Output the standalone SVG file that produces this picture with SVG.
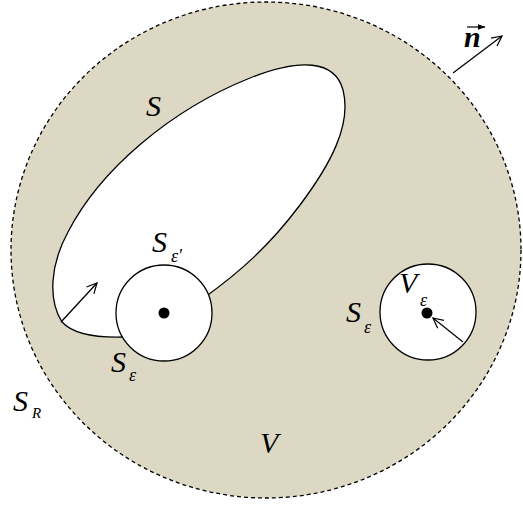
<svg xmlns="http://www.w3.org/2000/svg" width="523" height="505" viewBox="0 0 523 505">
<defs>
<marker id="ah" viewBox="0 0 12 12" refX="11" refY="6" markerWidth="12" markerHeight="12" markerUnits="userSpaceOnUse" orient="auto">
<path d="M1,1 L11,6 L1,11" fill="none" stroke="#000" stroke-width="1.2"/>
</marker>
<marker id="ah2" viewBox="0 0 8 8" refX="7.5" refY="4" markerWidth="8" markerHeight="8" markerUnits="userSpaceOnUse" orient="auto">
<path d="M0,1 L8,4 L0,7 Z" fill="#000"/>
</marker>
</defs>
<style>
.t{font-family:"Liberation Serif","Times New Roman",serif;font-style:italic;fill:#000}
.big{font-size:30px}
.sub{font-size:18px}
.w{fill:#fff;stroke:#000;stroke-width:1.3}
.arr{stroke:#000;stroke-width:1.3;fill:none;marker-end:url(#ah)}
</style>
<rect width="523" height="505" fill="#fff"/>
<g id="region-V">
<ellipse cx="266" cy="250" rx="255" ry="248" fill="#DCD8C3" stroke="#000" stroke-width="1.3" stroke-dasharray="4,3"/>
</g>
<g id="surface-S">
<path class="w" d="M62,322 C48,300 50,265 68,232 C100,170 170,110 250,78 C300,58 335,60 343,90 C352,125 330,165 300,205 C270,245 240,272 205,297 L125,337 C95,338 72,333 62,322 Z"/>
</g>
<g id="sphere-left">
<circle class="w" cx="164" cy="313" r="48"/>
<circle cx="164" cy="313" r="5.5" fill="#000"/>
</g>
<g id="sphere-right">
<circle class="w" cx="428" cy="312" r="48"/>
<circle cx="427" cy="313" r="5.5" fill="#000"/>
</g>
<g id="connectors">
<line class="arr" x1="61" y1="322" x2="97" y2="283"/>
<line class="arr" x1="463" y1="342" x2="433" y2="318"/>
<line class="arr" x1="453" y1="73" x2="502" y2="36"/>
<line x1="467" y1="27" x2="485" y2="27" stroke="#000" stroke-width="1.2" marker-end="url(#ah2)"/>
</g>
<g id="labels">
<text class="t big" x="146" y="116">S</text>
<text class="t big" x="152" y="252">S</text>
<text class="t sub" x="171" y="262">ε'</text>
<text class="t big" x="111" y="372">S</text>
<text class="t sub" x="129" y="381">ε</text>
<text class="t big" x="13" y="411">S</text>
<text class="t sub" x="32" y="418" style="font-size:15px">R</text>
<text class="t big" x="260" y="453">V</text>
<text class="t big" x="399" y="293">V</text>
<text class="t sub" x="420" y="306">ε</text>
<text class="t big" x="346" y="322">S</text>
<text class="t sub" x="364" y="333">ε</text>
<text class="t big" x="464" y="47" style="font-weight:bold">n</text>
</g>
</svg>
